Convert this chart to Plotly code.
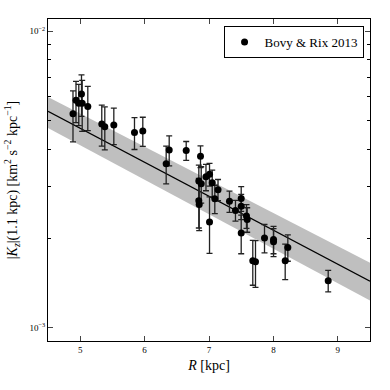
import plotly.graph_objects as go

# Data
R_kpc = [4.888, 4.935, 4.978, 5.020, 5.031, 5.118, 5.335, 5.382, 5.522, 5.843,
         5.972, 6.335, 6.382, 6.646, 6.842, 6.879, 6.868, 6.953, 7.008, 7.050,
         7.140, 6.842, 6.848, 7.008, 7.090, 7.318, 7.411, 7.500, 7.500, 7.500,
         7.582, 7.593, 7.680, 7.722, 7.862, 8.002, 8.002, 8.183, 8.224, 8.851]
Kz = [0.005264, 0.005845, 0.005711, 0.006139, 0.005711, 0.005566, 0.004862, 0.004764, 0.004824, 0.004548,
      0.004604, 0.003573, 0.003972, 0.003954, 0.003120, 0.003058, 0.003782, 0.003224, 0.003288, 0.003077,
      0.002918, 0.002676, 0.002603, 0.002268, 0.002721, 0.002665, 0.002484, 0.002727, 0.002563, 0.002083,
      0.002380, 0.002316, 0.001678, 0.001665, 0.002006, 0.001983, 0.001945, 0.001680, 0.001863, 0.001438]
Kz_err = [0.00103, 0.00093, 0.00091, 0.00098, 0.00112, 0.00095, 0.00077, 0.00079, 0.00068, 0.00056,
          0.00052, 0.00052, 0.00046, 0.00029, 0.00041, 0.00043, 0.00032, 0.00033, 0.00029, 0.00032,
          0.00024, 0.00051, 0.00048, 0.00049, 0.00030, 0.00022, 0.00020, 0.00026, 0.00025, 0.00031,
          0.00022, 0.00022, 0.00029, 0.00030, 0.00022, 0.00021, 0.00021, 0.00023, 0.00019, 0.00012]

model_R = [4.5, 9.5]
model_Kz = [0.00537, 0.001433]
band_low = [0.00471, 0.001234]
band_high = [0.00600, 0.001654]

ytick_vals = [0.001, 0.01]
ytick_text = ["10<sup>−3</sup>", "10<sup>−2</sup>"]
yminor_vals = [0.0009] + [k * 0.001 for k in range(2, 10)] + [0.02]
xtick_vals = [5, 6, 7, 8, 9]

FONT = "Liberation Serif"

fig = go.Figure()
fig.add_trace(go.Scatter(x=model_R, y=band_low, mode="lines", line=dict(width=0),
                         showlegend=False, hoverinfo="skip"))
fig.add_trace(go.Scatter(x=model_R, y=band_high, mode="lines", line=dict(width=0),
                         fill="tonexty", fillcolor="#bfbfbf", showlegend=False, hoverinfo="skip"))
fig.add_trace(go.Scatter(x=model_R, y=model_Kz, mode="lines", line=dict(color="black", width=1.3),
                         showlegend=False, hoverinfo="skip"))
fig.add_trace(go.Scatter(x=R_kpc, y=Kz, mode="markers", name="Bovy &amp; Rix 2013",
                         marker=dict(color="black", size=7),
                         error_y=dict(type="data", array=Kz_err, visible=True,
                                      color="#222222", thickness=1.3, width=3)))

fig.update_layout(
    width=390, height=390,
    margin=dict(l=48, r=20, t=19, b=49),
    paper_bgcolor="white", plot_bgcolor="white",
    font=dict(family=FONT, color="black"),
    legend=dict(x=0.98, y=0.978, xanchor="right", yanchor="top",
                bordercolor="black", borderwidth=1, bgcolor="white",
                font=dict(family=FONT, size=13)),
    showlegend=True,
)
fig.update_xaxes(range=[4.5, 9.5], tickvals=xtick_vals, ticks="inside", ticklen=5,
                 showline=True, linecolor="black", linewidth=1, mirror="ticks",
                 showgrid=False, zeroline=False, tickfont=dict(size=9, family=FONT),
                 automargin=False,
                 title=dict(text="<i>R</i> [kpc]", font=dict(size=14, family=FONT), standoff=6))
fig.update_yaxes(type="log", range=[-3.0458, -1.9586], tickvals=ytick_vals, ticktext=ytick_text,
                 ticks="inside", ticklen=5, showline=True, linecolor="black", linewidth=1,
                 mirror="ticks", showgrid=False, zeroline=False, automargin=False,
                 tickfont=dict(size=9, family=FONT),
                 minor=dict(tickvals=yminor_vals, ticks="inside", ticklen=3, tickcolor="black", showgrid=False),
                 title=dict(text="|<i>K<sub>z</sub></i>|(1.1 kpc) [km<sup>2</sup> s<sup>−2</sup> kpc<sup>−1</sup>]",
                            font=dict(size=14, family=FONT), standoff=8))

fig.write_html("out.html", config={"displayModeBar": False},
               post_script="document.body.style.margin='0';document.body.style.overflow='hidden';")
